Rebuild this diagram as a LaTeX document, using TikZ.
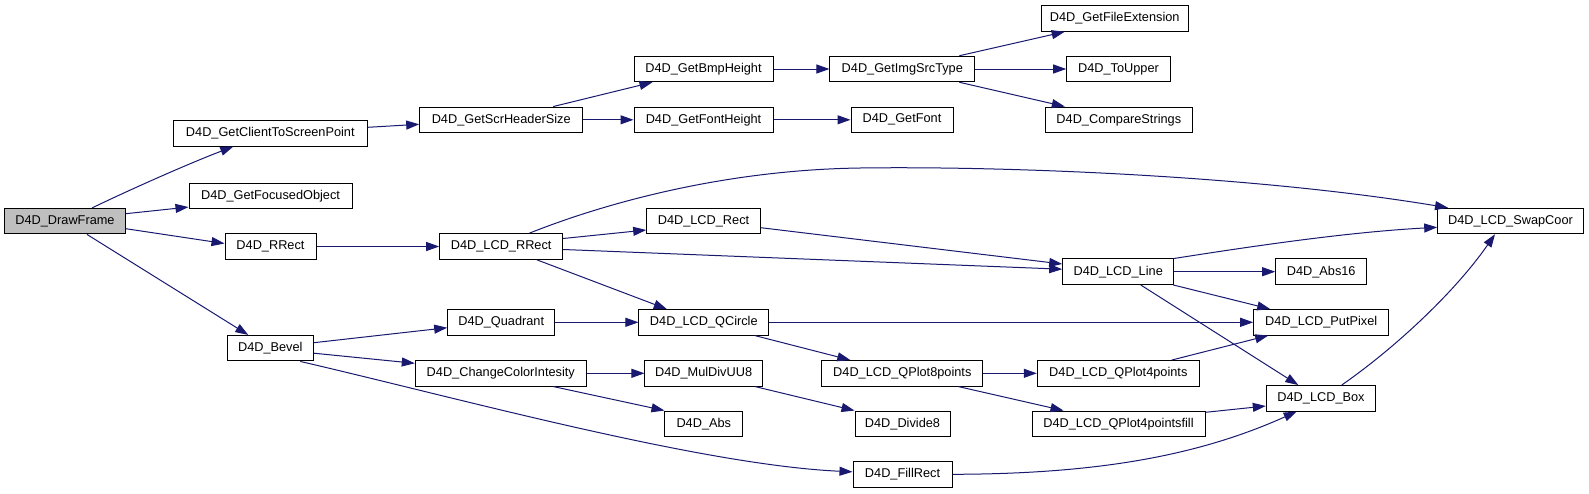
\documentclass[tikz,border=0pt]{standalone}
\usepackage{fontspec}
\setmainfont{Liberation Sans}
\usetikzlibrary{arrows.meta,calc}
\definecolor{edgeblue}{HTML}{191970}
\definecolor{framegray}{HTML}{BFBFBF}
\begin{document}
\begin{tikzpicture}[x=1pt,y=-1pt,
  fn/.style={draw=black, fill=white, line width=1pt, inner sep=0pt, minimum height=25.5pt,
    font=\fontsize{12.75}{14}\selectfont},
  e/.style={draw=edgeblue, line width=1pt, -{Triangle[length=13pt,width=9pt]}}]
\fill[white] (0,0) rectangle (1589,493);
\useasboundingbox (0,0) rectangle (1589,493);
% nodes
\node[fn,minimum width=120.6pt,fill=framegray] (DF) at (65,221.2) {D4D\_DrawFrame};
\node[fn,minimum width=194pt] (CTS) at (270.3,133.3) {D4D\_GetClientToScreenPoint};
\node[fn,minimum width=163pt] (GFO) at (270.5,195.8) {D4D\_GetFocusedObject};
\node[fn,minimum width=91pt] (RR) at (270.5,246.5) {D4D\_RRect};
\node[fn,minimum width=86pt] (BV) at (270.3,348.2) {D4D\_Bevel};
\node[fn,minimum width=163pt] (SHS) at (501.2,119.8) {D4D\_GetScrHeaderSize};
\node[fn,minimum width=139pt] (BMP) at (703.5,69) {D4D\_GetBmpHeight};
\node[fn,minimum width=139pt] (FH) at (703.5,119.8) {D4D\_GetFontHeight};
\node[fn,minimum width=144.7pt] (IST) at (902.3,69) {D4D\_GetImgSrcType};
\node[fn,minimum width=102pt] (GF) at (902,119.8) {D4D\_GetFont};
\node[fn,minimum width=147.3pt] (FE) at (1114.7,18.5) {D4D\_GetFileExtension};
\node[fn,minimum width=103.6pt] (TU) at (1118.5,69) {D4D\_ToUpper};
\node[fn,minimum width=147pt] (CS) at (1118.8,119.8) {D4D\_CompareStrings};
\node[fn,minimum width=123pt] (LRR) at (501.2,246.5) {D4D\_LCD\_RRect};
\node[fn,minimum width=113.6pt] (LR) at (703.5,221) {D4D\_LCD\_Rect};
\node[fn,minimum width=107pt] (QD) at (501.2,322.3) {D4D\_Quadrant};
\node[fn,minimum width=129.7pt] (QC) at (703.8,322.3) {D4D\_LCD\_QCircle};
\node[fn,minimum width=171pt] (CCI) at (500.8,373.3) {D4D\_ChangeColorIntesity};
\node[fn,minimum width=117.3pt] (MD) at (703.6,373.3) {D4D\_MulDivUU8};
\node[fn,minimum width=77.7pt] (AB) at (703.8,423.8) {D4D\_Abs};
\node[fn,minimum width=161.3pt] (QP8) at (902.3,373.3) {D4D\_LCD\_QPlot8points};
\node[fn,minimum width=95pt] (D8) at (902.5,423.8) {D4D\_Divide8};
\node[fn,minimum width=99pt] (FR) at (902.5,474.3) {D4D\_FillRect};
\node[fn,minimum width=111pt] (LL) at (1118.2,271.7) {D4D\_LCD\_Line};
\node[fn,minimum width=91pt] (A16) at (1321.2,271.7) {D4D\_Abs16};
\node[fn,minimum width=135pt] (PP) at (1321.2,322.3) {D4D\_LCD\_PutPixel};
\node[fn,minimum width=162pt] (QP4) at (1118.3,373.3) {D4D\_LCD\_QPlot4points};
\node[fn,minimum width=109.4pt] (BX) at (1321,398.3) {D4D\_LCD\_Box};
\node[fn,minimum width=173pt] (QP4F) at (1118.5,423.8) {D4D\_LCD\_QPlot4pointsfill};
\node[fn,minimum width=145.6pt] (SC) at (1510.5,221) {D4D\_LCD\_SwapCoor};
% edges
\draw[e] ($(DF.north)+(27,0)$) .. controls (125,192) and (185,165) .. ($(CTS.south)+(-37,0)$);
\draw[e] ($(DF.east)+(0,-7.5)$) -- ($(GFO.south west)+(0,-2)$);
\draw[e] ($(DF.east)+(0,7.5)$) -- ($(RR.west)+(0,-3)$);
\draw[e] ($(DF.south)+(22,0)$) -- ($(BV.north)+(-22,0)$);
\draw[e] ($(CTS.east)+(0,-6)$) -- ($(SHS.west)+(0,4.5)$);
\draw[e] ($(SHS.north)+(52,0)$) -- ($(BMP.south)+(-51,0)$);
\draw[e] (SHS.east) -- (FH.west);
\draw[e] (BMP.east) -- (IST.west);
\draw[e] (FH.east) -- (GF.west);
\draw[e] ($(IST.north)+(57,0)$) -- ($(FE.south)+(-50,0)$);
\draw[e] (IST.east) -- (TU.west);
\draw[e] ($(IST.south)+(57,0)$) -- ($(CS.north)+(-54,0)$);
\draw[e] (RR.east) -- (LRR.west);
\draw[e] ($(LRR.north)+(28,0)$) .. controls (600,205) and (720,170) .. (860,168) .. controls (1000,166) and (1250,175) .. ($(SC.north)+(-62.5,0)$);
\draw[e] ($(LRR.east)+(0,-8)$) -- ($(LR.west)+(0,9)$);
\draw[e] ($(LRR.east)+(0,3)$) -- ($(LL.west)+(0,-2.5)$);
\draw[e] ($(LRR.south)+(35.5,0)$) -- ($(QC.north)+(-37,0)$);
\draw[e] ($(LR.east)+(0,6.7)$) -- ($(LL.west)+(0,-7.7)$);
\draw[e] (LL.north east) .. controls (1260,245) and (1350,232) .. ($(SC.west)+(0,6.3)$);
\draw[e] (LL.east) -- (A16.west);
\draw[e] ($(LL.south east)+(-1,0)$) -- ($(PP.north)+(-51,0)$);
\draw[e] ($(LL.south)+(22.5,0)$) -- ($(BX.north)+(-22.7,0)$);
\draw[e] ($(BV.east)+(0,-5.5)$) -- ($(QD.west)+(0,5.4)$);
\draw[e] ($(BV.east)+(0,5)$) -- ($(CCI.west)+(0,-10)$);
\draw[e] ($(BV.south)+(30,0)$) .. controls (450,396) and (700,465) .. ($(FR.west)+(0,-2.5)$);
\draw[e] (QD.east) -- (QC.west);
\draw[e] (QC.east) -- (PP.west);
\draw[e] ($(QC.south)+(51,0)$) -- ($(QP8.north)+(-52,0)$);
\draw[e] (CCI.east) -- (MD.west);
\draw[e] ($(CCI.south)+(52.5,0)$) -- (AB.north west);
\draw[e] ($(MD.south)+(51.4,0)$) -- (D8.north west);
\draw[e] (QP8.east) -- (QP4.west);
\draw[e] ($(QP8.south)+(56,0)$) -- ($(QP4F.north)+(-55,0)$);
\draw[e] ($(QP4.north)+(53.4,0)$) -- ($(PP.south)+(-53,0)$);
\draw[e] ($(QP4F.east)+(0,-11.5)$) -- ($(BX.west)+(0,7.7)$);
\draw[e] (FR.east) .. controls (1100,474) and (1200,455) .. ($(BX.south)+(-24.3,0)$);
\draw[e] ($(BX.north)+(20.7,0)$) .. controls (1395,348) and (1455,292) .. ($(SC.south)+(-15.5,0)$);
\end{tikzpicture}
\end{document}
